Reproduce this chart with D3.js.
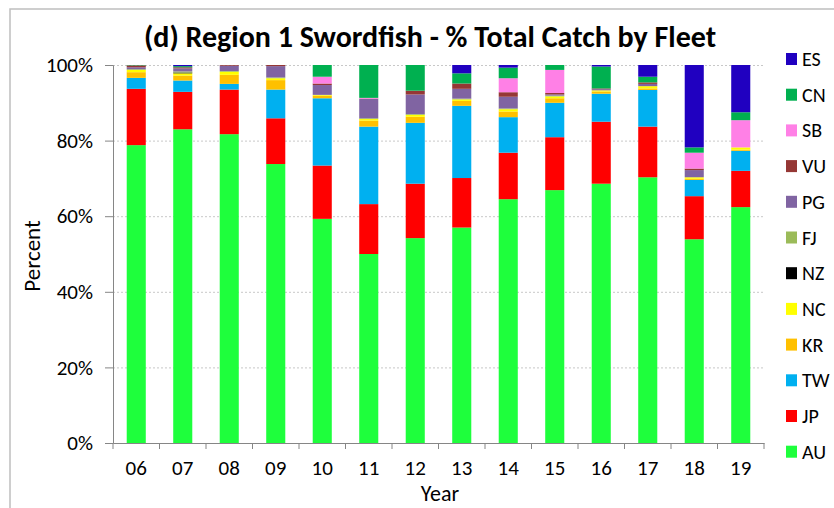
<!DOCTYPE html>
<html>
<head>
<meta charset="utf-8">
<script src="https://cdn.jsdelivr.net/npm/d3@7"></script>
<style>
  html, body { margin: 0; padding: 0; background: #fff; }
  svg { display: block; font-family: Calibri, Carlito, Lato, sans-serif; }
</style>
</head>
<body>
<div id="vis"></div>
<script>
// stack order, bottom to top
const fleets = ["AU", "JP", "TW", "KR", "NC", "NZ", "FJ", "PG", "VU", "SB", "CN", "ES"];
const fleetColors = ["#1eff3c", "#ff0000", "#00b0f0", "#ffc000", "#ffff00", "#000000",
                     "#9bbb59", "#8064a2", "#953735", "#ff80e6", "#00b050", "#2000c0"];
const years = ["06", "07", "08", "09", "10", "11", "12", "13", "14", "15", "16", "17", "18", "19"];

// percent of total catch, one array per fleet (same order as years)
const AU = [78.8, 83.0, 81.7, 73.8, 59.3, 50.0, 54.2, 57.0, 64.5, 66.9, 68.6, 70.3, 53.9, 62.4];
const JP = [14.9, 9.9, 11.8, 12.1, 14.1, 13.2, 14.4, 13.1, 12.3, 14.0, 16.4, 13.4, 11.4, 9.6];
const TW = [2.9, 3.0, 1.5, 7.6, 17.8, 20.5, 16.1, 19.1, 9.4, 9.1, 7.4, 9.7, 4.3, 5.3];
const KR = [1.5, 1.3, 2.4, 2.5, 0.7, 1.6, 1.6, 1.3, 1.5, 1.2, 0.6, 0.4, 0.3, 0.3];
const NC = [0.6, 0.6, 0.8, 0.5, 0.2, 0.4, 0.5, 0.4, 0.6, 0.5, 0.3, 0.6, 0.4, 0.6];
const NZ = [0, 0.2, 0, 0, 0, 0, 0, 0, 0, 0, 0, 0, 0, 0];
const FJ = [0.2, 0.3, 0.2, 0.2, 0, 0.2, 0.2, 0.2, 0.2, 0.2, 0, 0, 0, 0];
const PG = [0.5, 0.8, 1.4, 3.0, 2.6, 5.1, 5.2, 2.6, 3.1, 0.3, 0.3, 0.6, 1.9, 0];
const VU = [0.5, 0.3, 0.2, 0.3, 0.4, 0.1, 1.0, 1.4, 1.2, 0.4, 0.2, 0.4, 0.4, 0];
const SB = [0, 0, 0, 0, 1.8, 0.2, 0, 0, 3.7, 6.1, 0, 0, 4.2, 7.2];
const CN = [0.1, 0.3, 0, 0, 3.1, 8.7, 6.8, 2.7, 2.8, 1.3, 5.8, 1.5, 1.4, 2.1];
const ES = [0, 0.3, 0, 0, 0, 0, 0, 2.2, 0.7, 0, 0.4, 3.1, 21.8, 12.5];

const yTicks = [0, 20, 40, 60, 80, 100];

const series = { AU, JP, TW, KR, NC, NZ, FJ, PG, VU, SB, CN, ES };
const rows = years.map((yr, i) => {
  const r = { year: yr };
  fleets.forEach(f => { r[f] = series[f][i]; });
  return r;
});

const W = 834, H = 508;
const plot = { left: 113, right: 764, top: 65, bottom: 443 };
const FONT = "Calibri, Carlito, Lato, sans-serif";

const svg = d3.select("#vis").append("svg")
  .attr("width", W)
  .attr("height", H);

// outer chart frame
svg.append("rect")
  .attr("x", 10).attr("y", 9)
  .attr("width", 900).attr("height", 600)
  .attr("fill", "none")
  .attr("stroke", "#bfbfbf")
  .attr("stroke-width", 1.5);

const x = d3.scaleBand()
  .domain(years)
  .range([plot.left, plot.right])
  .paddingInner(0.59)
  .paddingOuter(0.295);

const y = d3.scaleLinear()
  .domain([0, 100])
  .range([plot.bottom, plot.top]);

const color = d3.scaleOrdinal().domain(fleets).range(fleetColors);

// gridlines
svg.append("g")
  .selectAll("line")
  .data(yTicks.filter(t => t > 0))
  .join("line")
  .attr("x1", plot.left).attr("x2", plot.right)
  .attr("y1", d => y(d) + 0.5).attr("y2", d => y(d) + 0.5)
  .attr("stroke", "#c8c8c8")
  .attr("stroke-dasharray", "2,2");

// bars
const stack = d3.stack().keys(fleets)(rows);
svg.append("g")
  .selectAll("g")
  .data(stack)
  .join("g")
  .attr("fill", d => color(d.key))
  .selectAll("rect")
  .data(d => d)
  .join("rect")
  .attr("x", d => x(d.data.year))
  .attr("width", x.bandwidth())
  .attr("y", d => y(d[1]))
  .attr("height", d => Math.max(0, y(d[0]) - y(d[1])));

// y axis
const yAxis = svg.append("g")
  .attr("transform", `translate(${plot.left},0)`)
  .call(d3.axisLeft(y).tickValues(yTicks).tickSize(8).tickPadding(12)
    .tickFormat(d => d + "%"));
yAxis.select(".domain").attr("stroke", "#868686");
yAxis.selectAll(".tick line").attr("stroke", "#868686");
yAxis.selectAll("text")
  .attr("font-size", 21)
  .attr("fill", "#000")
  .style("font-family", FONT);

// x axis: ticks sit between categories
const xAxis = svg.append("g")
  .attr("transform", `translate(0,${plot.bottom})`)
  .call(d3.axisBottom(x).tickSize(0).tickPadding(17));
xAxis.select(".domain").attr("stroke", "#868686");
xAxis.selectAll("text")
  .attr("font-size", 21)
  .attr("fill", "#000")
  .style("font-family", FONT);
const bounds = years.map(d => x(d) + x.bandwidth() / 2 - x.step() / 2)
  .concat([x(years[years.length - 1]) + x.bandwidth() / 2 + x.step() / 2]);
xAxis.selectAll(".bound")
  .data(bounds)
  .join("line")
  .attr("class", "bound")
  .attr("x1", d => d).attr("x2", d => d)
  .attr("y1", 0).attr("y2", 6)
  .attr("stroke", "#868686");

// title and axis titles
svg.append("text")
  .attr("x", 430).attr("y", 47)
  .attr("text-anchor", "middle")
  .attr("font-size", 30)
  .attr("font-weight", "bold")
  .text("(d) Region 1 Swordfish - % Total Catch by Fleet");

svg.append("text")
  .attr("x", 440).attr("y", 501)
  .attr("text-anchor", "middle")
  .attr("font-size", 22)
  .text("Year");

svg.append("text")
  .attr("transform", "translate(40,256) rotate(-90)")
  .attr("text-anchor", "middle")
  .attr("font-size", 23)
  .text("Percent");

// legend, top to bottom: ES ... AU
const legend = svg.append("g")
  .selectAll("g")
  .data(fleets.slice().reverse())
  .join("g")
  .attr("transform", (d, i) => `translate(786,${59 + i * 35.7})`);
legend.append("rect")
  .attr("x", 0).attr("y", -6)
  .attr("width", 11).attr("height", 12)
  .attr("fill", d => color(d));
legend.append("text")
  .attr("x", 16).attr("y", 7)
  .attr("font-size", 20)
  .text(d => d);
</script>
</body>
</html>
